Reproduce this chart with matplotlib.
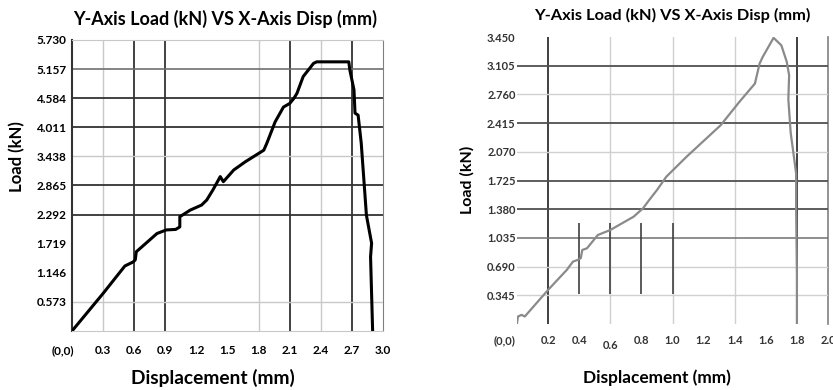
import matplotlib
matplotlib.use('Agg')
from matplotlib import pyplot as plt
from matplotlib.transforms import ScaledTranslation

plt.rcParams['font.family'] = ['Lato', 'DejaVu Sans']

# Left test: load vs displacement (black curve)
left_disp = [0.00, 0.30, 0.51, 0.59, 0.61, 0.62, 0.82, 0.91, 1.00, 1.04, 1.04, 1.14,
             1.25, 1.30, 1.36, 1.43, 1.46, 1.56, 1.67, 1.85, 1.88, 1.96, 2.04, 2.10,
             2.14, 2.17, 2.23, 2.33, 2.36, 2.67, 2.68, 2.72, 2.73, 2.76, 2.79, 2.82,
             2.84, 2.89, 2.88, 2.90]
left_load = [0.00, 0.74, 1.28, 1.36, 1.40, 1.56, 1.92, 1.99, 2.00, 2.05, 2.25, 2.38,
             2.48, 2.58, 2.78, 3.04, 2.94, 3.17, 3.33, 3.56, 3.70, 4.12, 4.41, 4.48,
             4.58, 4.68, 5.01, 5.27, 5.30, 5.30, 5.14, 4.75, 4.29, 4.25, 3.70, 2.85,
             2.28, 1.73, 1.46, 0.00]

# Right test: load vs displacement (grey curve)
right_disp = [0.00, 0.006, 0.03, 0.05, 0.20, 0.32, 0.36, 0.39, 0.41, 0.42, 0.45, 0.52,
              0.60, 0.75, 0.81, 0.85, 0.90, 0.96, 1.09, 1.31, 1.43, 1.53, 1.56, 1.58,
              1.65, 1.70, 1.735, 1.75, 1.745, 1.76, 1.795, 1.795, 1.80, 1.80]
right_load = [0.01, 0.09, 0.11, 0.09, 0.41, 0.65, 0.75, 0.77, 0.79, 0.89, 0.91, 1.07,
              1.13, 1.29, 1.39, 1.49, 1.61, 1.77, 2.01, 2.39, 2.67, 2.89, 3.13, 3.21,
              3.44, 3.35, 3.15, 2.99, 2.70, 2.30, 1.81, 1.41, 0.60, 0.01]

left_xticks = [0.0, 0.3, 0.6, 0.9, 1.2, 1.5, 1.8, 2.1, 2.4, 2.7, 3.0]
left_xlabels = ['(0,0)', '0.3', '0.6', '0.9', '1.2', '1.5', '1.8', '2.1', '2.4', '2.7', '3.0']
left_yticks = [0.573, 1.146, 1.719, 2.292, 2.865, 3.438, 4.011, 4.584, 5.157, 5.730]

right_xticks = [0.0, 0.2, 0.4, 0.6, 0.8, 1.0, 1.2, 1.4, 1.6, 1.8, 2.0]
right_xlabels = ['(0,0)', '0.2', '0.4', '0.6', '0.8', '1.0', '1.2', '1.4', '1.6', '1.8', '2.0']
right_yticks = [0.345, 0.690, 1.035, 1.380, 1.725, 2.070, 2.415, 2.760, 3.105, 3.450]

# grid lines as drawn in the original (which ones are dark / light)
left_vdark = [0.6, 0.9, 2.1, 2.7]
left_vlight = [0.3, 1.8, 2.4]
left_hdark = [2.292, 2.865, 4.011, 4.584]
left_hmid = [5.157]
left_hlight = [0.573, 3.438]

right_vdark = [0.2, 1.8]
right_vlight = [0.6, 1.0, 1.4]
right_vshort = [0.4, 0.6, 0.8, 1.0]
right_hdark = [1.380, 1.725, 2.415, 3.105]
right_hmid = [1.035]
right_hlight = [0.345, 0.690, 2.070, 2.760]

W, H = 833, 390
fig = plt.figure(figsize=(W / 100, H / 100), dpi=100)

ax1 = fig.add_axes([72 / W, 1 - 331 / H, 311 / W, 291 / H])
ax2 = fig.add_axes([517 / W, 1 - 324 / H, 311 / W, 287 / H])

# ---- left panel ----
ax1.set_xlim(0, 3.0)
ax1.set_ylim(0, 5.73)
for v in left_vdark:
    ax1.axvline(v, color='#333333', lw=1.3, zorder=1)
for v in left_vlight:
    ax1.axvline(v, color='#c8c8c8', lw=1.0, zorder=1)
for h in left_hdark:
    ax1.axhline(h, color='#333333', lw=1.3, zorder=1)
for h in left_hmid:
    ax1.axhline(h, color='#707070', lw=1.2, zorder=1)
for h in left_hlight:
    ax1.axhline(h, color='#c8c8c8', lw=1.0, zorder=1)
ax1.plot(left_disp, left_load, color='black', lw=2.2, zorder=3, solid_joinstyle='round')

ax1.spines['left'].set_color('#333333')
ax1.spines['left'].set_linewidth(1.5)
ax1.spines['top'].set_color('#c8c8c8')
ax1.spines['bottom'].set_color('#c8c8c8')
ax1.spines['right'].set_color('#808080')
ax1.set_xticks(left_xticks, left_xlabels)
ax1.set_yticks(left_yticks, ['%.3f' % t for t in left_yticks])
ax1.tick_params(length=0, labelsize=8.5)
ax1.tick_params(axis='x', pad=10)
ax1.tick_params(axis='y', pad=4)
for lbl in ax1.get_xticklabels() + ax1.get_yticklabels():
    lbl.set_fontweight('bold')
first = ax1.get_xticklabels()[0]
first.set_transform(first.get_transform() + ScaledTranslation(-0.09, 0, fig.dpi_scale_trans))

# ---- right panel ----
ax2.set_xlim(0, 2.0)
ax2.set_ylim(0, 3.45)
for v in right_vdark:
    ax2.axvline(v, color='#303030', lw=1.3, zorder=1)
ax2.axvline(right_xticks[-1], color='#808080', lw=1.2, zorder=1, clip_on=False)
for v in right_vlight:
    ax2.axvline(v, color='#d0d0d0', lw=1.0, zorder=1)
for v in right_vshort:
    ax2.vlines(v, 0.36, 1.21, color='#404040', lw=1.2, zorder=2)
for h in right_hdark:
    ax2.axhline(h, color='#505050', lw=1.3, zorder=1)
for h in right_hmid:
    ax2.axhline(h, color='#707070', lw=1.1, zorder=1)
for h in right_hlight:
    ax2.axhline(h, color='#d0d0d0', lw=1.0, zorder=1)
ax2.plot(right_disp, right_load, color='#8a8a8a', lw=1.6, zorder=3)

for s in ax2.spines.values():
    s.set_visible(False)
ax2.set_xticks(right_xticks, right_xlabels)
ax2.set_yticks(right_yticks, ['%.3f' % t for t in right_yticks])
ax2.tick_params(length=0, labelsize=8, labelcolor='#333333')
ax2.tick_params(axis='x', pad=8)
ax2.tick_params(axis='y', pad=1)
for lbl in ax2.get_xticklabels() + ax2.get_yticklabels():
    lbl.set_fontweight('bold')
first = ax2.get_xticklabels()[0]
first.set_transform(first.get_transform() + ScaledTranslation(-0.12, 0, fig.dpi_scale_trans))
low = ax2.get_xticklabels()[3]
low.set_transform(low.get_transform() + ScaledTranslation(0, -0.05, fig.dpi_scale_trans))

# titles and axis labels
title = 'Y-Axis Load (kN) VS X-Axis Disp (mm)'
fig.text(225 / W, 1 - 19 / H, title, ha='center', va='center', fontsize=13, fontweight='bold')
fig.text(672 / W, 1 - 15 / H, title, ha='center', va='center', fontsize=11.8, fontweight='bold')
fig.text(213 / W, 1 - 378 / H, 'Displacement (mm)', ha='center', va='center', fontsize=13.8, fontweight='bold')
fig.text(657 / W, 1 - 378 / H, 'Displacement (mm)', ha='center', va='center', fontsize=12.4, fontweight='bold')
fig.text(17 / W, 1 - 157 / H, 'Load (kN)', ha='center', va='center', rotation=90, fontsize=12, fontweight='bold')
fig.text(467 / W, 1 - 180 / H, 'Load (kN)', ha='center', va='center', rotation=90, fontsize=11.5, fontweight='bold')

fig.savefig('out.png', dpi=100)
